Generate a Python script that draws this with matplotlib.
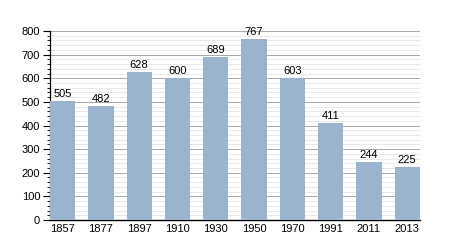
import matplotlib
matplotlib.use("Agg")
import matplotlib.pyplot as plt
from matplotlib.ticker import MultipleLocator

years = ["1857", "1877", "1897", "1910", "1930", "1950", "1970", "1991", "2011", "2013"]
population = [505, 482, 628, 600, 689, 767, 603, 411, 244, 225]

plt.rcParams['font.family'] = ['Liberation Sans', 'DejaVu Sans']
fig = plt.figure(figsize=(4.5, 2.5), dpi=100)
ax = fig.add_axes([0.111, 0.12, 0.822, 0.756])

x = range(len(years))
w = 0.66
ax.bar(x, population, width=w, color='#9ab3cf', zorder=3)
for xi, v in zip(x, population):
    ax.text(xi, v + 8, str(v), ha='center', va='bottom', fontsize=8, zorder=4)

ax.set_xlim(-w / 2, len(years) - 1 + w / 2)
ax.set_ylim(0, 800)
ax.set_xticks(list(x))
ax.set_xticklabels(years, fontsize=8)
ax.yaxis.set_major_locator(MultipleLocator(100))
ax.yaxis.set_minor_locator(MultipleLocator(20))
ax.tick_params(axis='y', which='major', length=5, width=0.8, labelsize=8, pad=2)
ax.tick_params(axis='y', which='minor', length=2.5, width=0.6)
ax.tick_params(axis='x', length=0, pad=3)
ax.grid(axis='y', which='major', color='#a8a8a8', linewidth=0.7, zorder=0)
ax.grid(axis='y', which='minor', color='#e0e0e0', linewidth=0.5, zorder=0)
for s in ['top', 'right']:
    ax.spines[s].set_visible(False)
ax.spines['left'].set_linewidth(0.9)
ax.spines['bottom'].set_linewidth(1.0)

fig.savefig('out.png', dpi=100)
